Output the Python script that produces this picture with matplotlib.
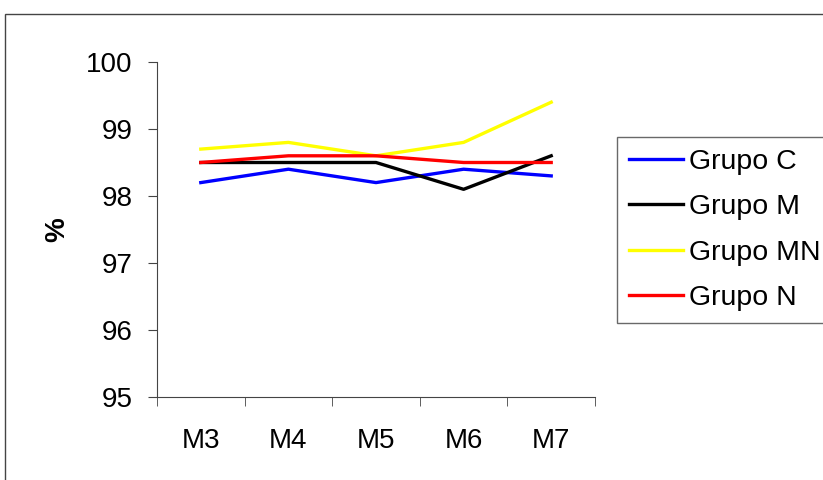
import matplotlib
matplotlib.use('Agg')
import matplotlib.pyplot as plt
from matplotlib.patches import Rectangle

plt.rcParams['font.family'] = ['Liberation Sans', 'DejaVu Sans']

months = ['M3', 'M4', 'M5', 'M6', 'M7']
grupo_c = [98.2, 98.4, 98.2, 98.4, 98.3]
grupo_m = [98.5, 98.5, 98.5, 98.1, 98.6]
grupo_mn = [98.7, 98.8, 98.6, 98.8, 99.4]
grupo_n = [98.5, 98.6, 98.6, 98.5, 98.5]

series = [('Grupo C', grupo_c, '#0000ff'),
          ('Grupo M', grupo_m, '#000000'),
          ('Grupo MN', grupo_mn, '#ffff00'),
          ('Grupo N', grupo_n, '#ff0000')]

W, H = 823, 480
fs = 20
fig = plt.figure(figsize=(W / 100, H / 100), dpi=100)
ax = fig.add_axes([157 / W, 1 - 397 / H, 438 / W, 335 / H])

x = list(range(len(months)))
for name, vals, col in series:
    ax.plot(x, vals, color=col, lw=2.4, label=name)

ax.set_xlim(-0.5, len(months) - 0.5)
ax.set_ylim(95, 100)
ax.set_yticks([95, 96, 97, 98, 99, 100])
ax.set_yticklabels(['95', '96', '97', '98', '99', '100'], fontsize=fs)
ax.set_xticks(x)
ax.set_xticklabels(months, fontsize=fs)
ax.tick_params(axis='x', length=0, pad=22)
ax.set_xticks([i - 0.5 for i in range(len(months) + 1)], minor=True)
ax.tick_params(axis='x', which='minor', length=6.5, direction='out', color='#444444')
ax.tick_params(axis='y', length=6.5, direction='out', color='#444444', pad=11)
for s in ['top', 'right']:
    ax.spines[s].set_visible(False)
for s in ['left', 'bottom']:
    ax.spines[s].set_color('#444444')
ax.set_ylabel('%', fontsize=fs, fontweight='bold')
ax.yaxis.set_label_coords((70 - 157) / 438, (397 - 230) / 335)

leg = fig.legend(loc='upper left', bbox_to_anchor=(617 / W, 1 - 137 / H),
                 fontsize=20.5, frameon=True, fancybox=False, handlelength=1.9,
                 handletextpad=0.2, labelspacing=0.68, borderpad=0.42,
                 borderaxespad=0)
leg.get_frame().set_edgecolor('#444444')
leg.get_frame().set_linewidth(1.0)

fig.add_artist(Rectangle((5 / W, -0.1), 1.2, 1.1 - 14 / H, transform=fig.transFigure,
                         fill=False, edgecolor='#444444', lw=1.0))

fig.savefig('out.png', dpi=100)
